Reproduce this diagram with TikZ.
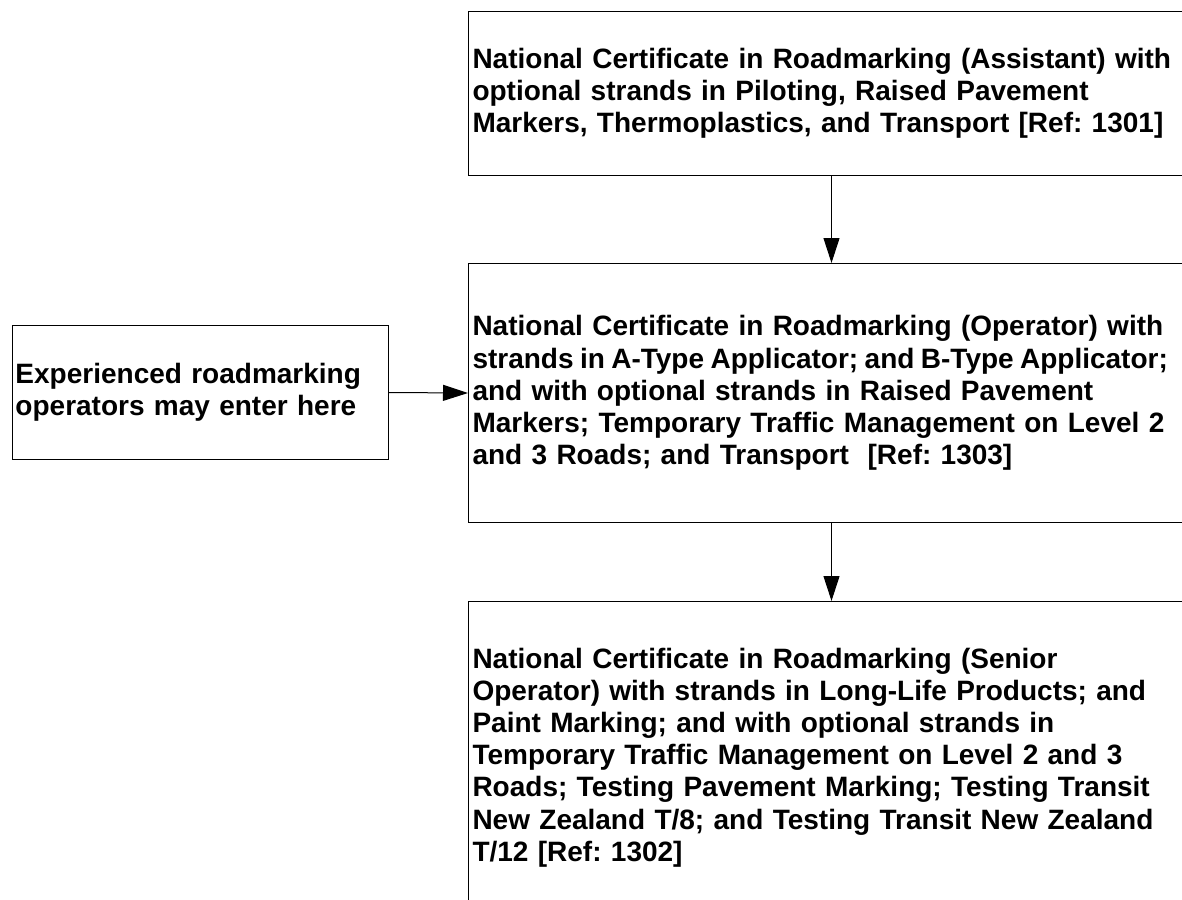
\documentclass[tikz,border=0pt]{standalone}
\usepackage{fontspec}
\setmainfont{Liberation Sans}
\frenchspacing
\usetikzlibrary{arrows.meta}
\tikzset{x=1pt,y=-1pt,
 stagebox/.style={draw,line width=1pt,anchor=north west,minimum width=726pt,
  text width=718pt,inner xsep=4pt,align=left},
 entrybox/.style={draw,line width=1pt,anchor=north west,minimum width=376pt,
  minimum height=134pt,text width=370pt,inner xsep=3pt,align=left},
 flow/.style={-{Triangle[length=25pt,width=16pt]},line width=1pt},
 every node/.style={font=\bfseries\fontsize{28}{32.2}\selectfont}}

\begin{document}
\begin{tikzpicture}
\useasboundingbox (0,0) rectangle (1182,899);
\clip (0,0) rectangle (1182,899);
\node[stagebox,minimum height=164pt] (assistant) at (468,11)
 {National Certificate in Roadmarking (Assistant) with\\
  optional strands in Piloting, Raised Pavement\\
  Markers, Thermoplastics, and Transport [Ref: 1301]};
\node[stagebox,minimum height=259pt] (operator) at (468,263)
 {National Certificate in Roadmarking (Operator) with\\
  {\spaceskip=6.4pt strands in A-Type Applicator; and B-Type Applicator;}\\
  and with optional strands in Raised Pavement\\
  Markers; Temporary Traffic Management on Level 2\\
  and 3 Roads; and Transport\ \ [Ref: 1303]};
\node[stagebox,minimum height=312pt] (senior) at (468,601)
 {National Certificate in Roadmarking (Senior\\
  Operator) with strands in Long-Life Products; and\\
  Paint Marking; and with optional strands in\\
  Temporary Traffic Management on Level 2 and 3\\
  Roads; Testing Pavement Marking; Testing Transit\\
  New Zealand T/8; and Testing Transit New Zealand\\
  T/12 [Ref: 1302]};
\node[entrybox] (entry) at (12,325)
 {Experienced roadmarking\\ operators may enter here};
\draw[flow] (assistant.south) -- (operator.north);
\draw[flow] (operator.south) -- (senior.north);
\draw[flow] (entry.east) -- (operator.west);
\end{tikzpicture}
\end{document}
